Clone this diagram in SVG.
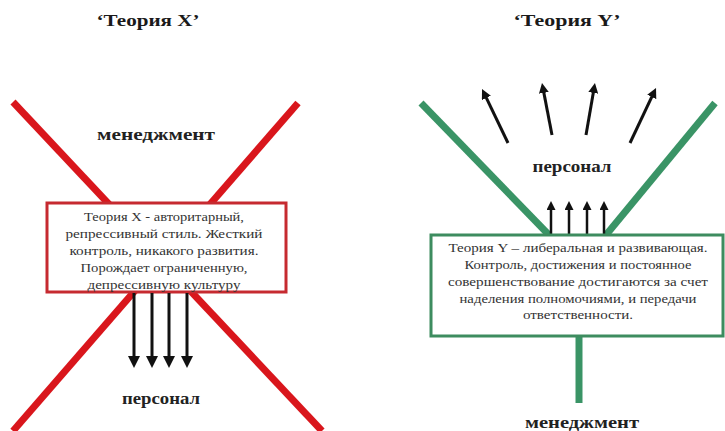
<svg xmlns="http://www.w3.org/2000/svg" width="725" height="431" viewBox="0 0 725 431">
<style>
.bg{fill:#ffffff}
.red{stroke:#d9161c;stroke-width:7;stroke-linecap:butt;fill:none}
.grn{stroke:#3a9466;stroke-width:7;stroke-linecap:butt;fill:none}
.boxr{fill:#ffffff;stroke:#c62a30;stroke-width:3}
.boxg{fill:#ffffff;stroke:#3d8c5f;stroke-width:3}
.arr{stroke:#111111;stroke-width:3;fill:none}
.arrs{stroke:#111111;stroke-width:2.5;fill:none}
.title{font-family:"Liberation Serif",serif;font-weight:bold;font-size:17px;fill:#1a1a1a;text-anchor:middle}
.lbl{font-family:"Liberation Serif",serif;font-weight:bold;font-size:16px;fill:#222222;text-anchor:middle}
.txt{font-family:"Liberation Serif",serif;font-size:13px;fill:#333333;text-anchor:middle}
.txt2{font-family:"Liberation Serif",serif;font-size:12px;fill:#333333;text-anchor:middle}
</style>
<defs>
<marker id="ah" viewBox="0 0 12 12" markerWidth="12" markerHeight="12" refX="3" refY="6" orient="auto" markerUnits="userSpaceOnUse"><path d="M0,0 L12,6 L0,12 z" fill="#111111"/></marker>
<marker id="am" viewBox="0 0 10 10" markerWidth="10" markerHeight="10" refX="2" refY="5" orient="auto" markerUnits="userSpaceOnUse"><path d="M0,0 L10,5 L0,10 z" fill="#111111"/></marker>
<marker id="as" viewBox="0 0 9 9" markerWidth="9" markerHeight="9" refX="2" refY="4.5" orient="auto" markerUnits="userSpaceOnUse"><path d="M0,0 L9,4.5 L0,9 z" fill="#111111"/></marker>
</defs>
<rect class="bg" x="0" y="0" width="725" height="431"/>

<g id="connectors">
  <line class="red" x1="13" y1="102" x2="322" y2="431"/>
  <line class="red" x1="298" y1="103" x2="13" y2="431"/>
  <line class="grn" x1="421" y1="103" x2="549" y2="235"/>
  <line class="grn" x1="715" y1="103" x2="606" y2="235"/>
  <line class="grn" x1="579" y1="336" x2="579" y2="403"/>
</g>

<g id="titleX"><text class="title" x="148" y="26" textLength="103" lengthAdjust="spacingAndGlyphs">‘Теория X’</text></g>
<g id="titleY"><text class="title" x="567" y="26" textLength="107" lengthAdjust="spacingAndGlyphs">‘Теория Y’</text></g>

<g id="managementX"><text class="lbl" x="156" y="140" textLength="118" lengthAdjust="spacingAndGlyphs">менеджмент</text></g>

<g id="boxX">
  <rect class="boxr" x="47" y="203" width="239" height="89"/>
  <text class="txt" x="164" y="221" textLength="160" lengthAdjust="spacingAndGlyphs">Теория Х - авторитарный,</text>
  <text class="txt" x="164" y="238" textLength="197" lengthAdjust="spacingAndGlyphs">репрессивный стиль. Жесткий</text>
  <text class="txt" x="164" y="255" textLength="189" lengthAdjust="spacingAndGlyphs">контроль, никакого развития.</text>
  <text class="txt" x="164" y="272" textLength="167" lengthAdjust="spacingAndGlyphs">Порождает ограниченную,</text>
  <text class="txt" x="164" y="289" textLength="153" lengthAdjust="spacingAndGlyphs">депрессивную культуру</text>
</g>

<g id="arrowsX">
  <line class="arr" x1="134" y1="293" x2="134" y2="359" marker-end="url(#ah)"/>
  <line class="arr" x1="152" y1="293" x2="152" y2="359" marker-end="url(#ah)"/>
  <line class="arr" x1="169" y1="293" x2="169" y2="359" marker-end="url(#ah)"/>
  <line class="arr" x1="187" y1="293" x2="187" y2="359" marker-end="url(#ah)"/>
</g>

<g id="personnelX"><text class="lbl" x="161" y="404" textLength="78" lengthAdjust="spacingAndGlyphs">персонал</text></g>

<g id="fanY">
  <line class="arr" x1="508" y1="143" x2="485.5" y2="96.2" marker-end="url(#am)"/>
  <line class="arr" x1="552" y1="135" x2="543.5" y2="90.9" marker-end="url(#am)"/>
  <line class="arr" x1="586" y1="135" x2="593.6" y2="90.9" marker-end="url(#am)"/>
  <line class="arr" x1="630" y1="143" x2="652.6" y2="95.2" marker-end="url(#am)"/>
</g>

<g id="personnelY"><text class="lbl" x="572" y="172" textLength="79" lengthAdjust="spacingAndGlyphs">персонал</text></g>

<g id="arrowsY">
  <line class="arrs" x1="551" y1="235" x2="551" y2="208" marker-end="url(#as)"/>
  <line class="arrs" x1="569" y1="235" x2="569" y2="208" marker-end="url(#as)"/>
  <line class="arrs" x1="587" y1="235" x2="587" y2="208" marker-end="url(#as)"/>
  <line class="arrs" x1="604" y1="235" x2="604" y2="208" marker-end="url(#as)"/>
</g>

<g id="boxY">
  <rect class="boxg" x="431" y="235" width="292" height="101"/>
  <text class="txt2" x="578" y="252" textLength="259" lengthAdjust="spacingAndGlyphs">Теория Y – либеральная и развивающая.</text>
  <text class="txt2" x="578" y="269" textLength="227" lengthAdjust="spacingAndGlyphs">Контроль, достижения и постоянное</text>
  <text class="txt2" x="578" y="286" textLength="260" lengthAdjust="spacingAndGlyphs">совершенствование достигаются за счет</text>
  <text class="txt2" x="578" y="303" textLength="237" lengthAdjust="spacingAndGlyphs">наделения полномочиями, и передачи</text>
  <text class="txt2" x="578" y="319" textLength="110" lengthAdjust="spacingAndGlyphs">ответственности.</text>
</g>

<g id="managementY"><text class="lbl" x="582" y="428" textLength="114" lengthAdjust="spacingAndGlyphs">менеджмент</text></g>
</svg>
